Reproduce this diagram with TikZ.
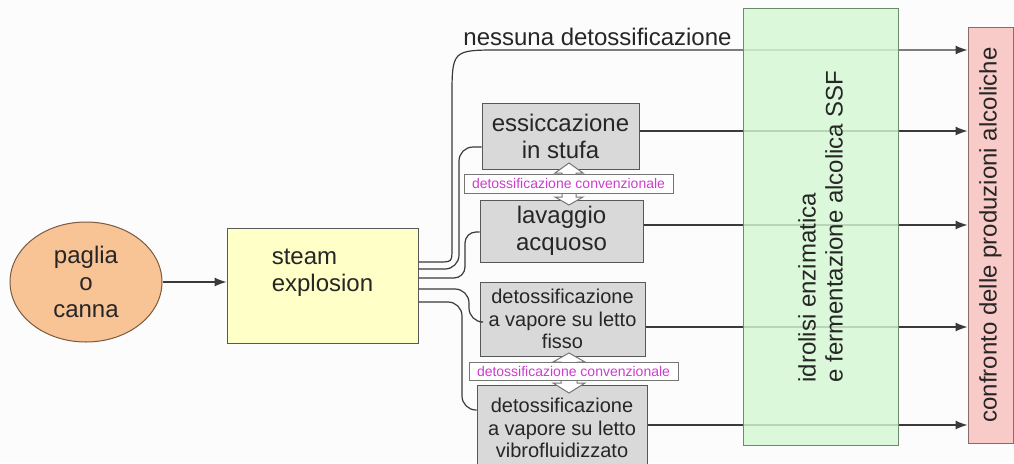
\documentclass[tikz,border=0pt]{standalone}
\usepackage{fontspec}
\setmainfont{Liberation Sans}
\usetikzlibrary{shapes.geometric,arrows.meta}
\definecolor{lineC}{HTML}{3A3A3A}
\definecolor{txtC}{HTML}{262626}
\definecolor{orangeF}{HTML}{F8C496}
\definecolor{orangeD}{HTML}{7A5A40}
\definecolor{yellowF}{HTML}{FFFFC8}
\definecolor{grayF}{HTML}{D9D9D9}
\definecolor{greenF}{HTML}{D6F8D4}
\definecolor{greenD}{HTML}{6E8A6E}
\definecolor{pinkF}{HTML}{F8CBC8}
\definecolor{pinkD}{HTML}{8A6A6A}
\definecolor{magC}{HTML}{CC3DCC}
\tikzset{
  big/.style={font=\fontsize{24}{27}\selectfont, text=txtC},
  mid/.style={font=\fontsize{20}{22.5}\selectfont, text=txtC},
  box/.style={draw=lineC!85, line width=1pt, rectangle, inner sep=0pt, align=center},
  graybox/.style={box, fill=grayF},
  lbl/.style={draw=lineC!70, line width=1pt, fill=white, inner sep=0pt,
     font=\fontsize{14}{16}\selectfont, text=magC},
  conn/.style={draw=lineC, line width=1.2pt},
  arr/.style={conn, -{Latex[length=12pt,width=9pt]}},
  dbl/.style={draw=lineC!70, line width=1pt, fill=white},
}
\begin{document}
\begin{tikzpicture}[x=1pt,y=-1pt]
\useasboundingbox (0,0) rectangle (1014,463);
\fill[white!98!gray] (0,0) rectangle (1014,463);
\clip (0,0) rectangle (1014,463);

% nodes
\node[ellipse, draw=orangeD, line width=1pt, fill=orangeF, minimum width=152, minimum height=120, inner sep=0pt, align=center, big] (paglia) at (86,282) {paglia\\o\\canna};
\node[box, fill=yellowF, minimum width=191, minimum height=115, big, align=left] (steam) at (322.5,285.5) {steam\\explosion\\[4pt]};

\node[graybox, minimum width=157, minimum height=66, big] (b1) at (560.5,136) {essiccazione\\in stufa};
\node[graybox, minimum width=163, minimum height=62, big] (b2) at (561.5,231) {lavaggio\\acquoso};
\node[graybox, minimum width=165, minimum height=74, mid] (b3) at (562.5,319) {detossificazione\\a vapore su letto\\fisso};
\node[graybox, minimum width=170, minimum height=86, mid] (b4) at (562,428) {detossificazione\\a vapore su letto\\vibrofluidizzato};

\node[box, rotate=90, draw=pinkD, fill=pinkF, minimum width=416, minimum height=45, big] (pink) at (990.5,235) {confronto delle produzioni alcoliche};

\node[big, anchor=base] (nessuna) at (597.5,45) {nessuna detossificazione};

% connectors (pink is rotated: its north anchor is its left side)
\draw[arr] (paglia.east) -- (steam.west |- paglia.east);

\draw[arr] (steam.east |- 0,262) -- (438,262) .. controls (452,262) .. (452,248) -- (452,98) .. controls (452,50) .. (500,50) -- (pink.north |- 0,50);
\draw[conn, rounded corners=14pt] (steam.east |- 0,269) -- (459,269) -- (459,147) -- (b1.west |- 0,147);
\draw[conn, rounded corners=11pt] (steam.east |- 0,278) -- (465,278) -- (465,232) -- (b2.west |- 0,232);
\draw[conn, rounded corners=14pt] (steam.east |- 0,289) -- (469,289) -- (469,322) -- (b3.west |- 0,322);
\draw[conn, rounded corners=14pt] (steam.east |- 0,302) -- (462,302) -- (462,410) -- (b4.west |- 0,410);

\draw[arr] (b1.east |- 0,131) -- (pink.north |- 0,131);
\draw[arr] (b2.east |- 0,225) -- (pink.north |- 0,225);
\draw[arr] (b3.east |- 0,327) -- (pink.north |- 0,327);
\draw[arr] (b4.east |- 0,425) -- (pink.north |- 0,425);

% green box over the lines
\node[box, rotate=90, draw=greenD, fill=greenF, fill opacity=0.82, text opacity=1, minimum width=437, minimum height=155, align=left, big] (ssf) at (820.5,226.5) {idrolisi enzimatica\\ e fermentazione alcolica SSF};

% double arrows and labels
\draw[dbl] (569,163) -- (583,173) -- (576,173) -- (576,197) -- (583,197) -- (569,205) -- (555,197) -- (562,197) -- (562,173) -- (555,173) -- cycle;
\node[lbl, minimum width=209, minimum height=19] (l1) at (568.5,183.5) {detossificazione convenzionale};
\draw[dbl] (569,353) -- (585,362) -- (577,362) -- (577,383) -- (585,383) -- (569,393) -- (553,383) -- (561,383) -- (561,362) -- (553,362) -- cycle;
\node[lbl, minimum width=209, minimum height=18] (l2) at (573.5,371) {detossificazione convenzionale};
\end{tikzpicture}
\end{document}
